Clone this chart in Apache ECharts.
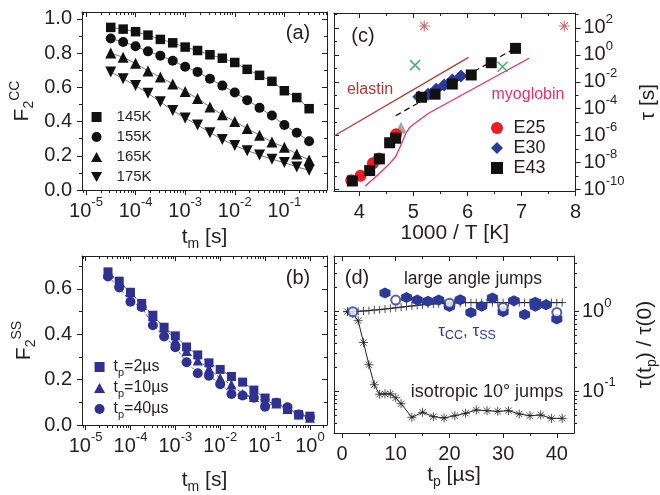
<!DOCTYPE html>
<html><head><meta charset="utf-8">
<script src="https://cdn.jsdelivr.net/npm/echarts@6.0.0/dist/echarts.min.js"></script>
<style>html,body{margin:0;padding:0;background:#fff}#c{width:660px;height:495px}</style>
</head><body><div id="c"></div>
<script>
// ================= DATA =================
// (a) F2^CC vs t_m
const tmA = [3.16e-5,5.62e-5,1e-4,1.78e-4,3.16e-4,5.62e-4,1e-3,1.78e-3,3.16e-3,5.62e-3,1e-2,1.78e-2,3.16e-2,5.62e-2,0.1,0.178,0.316];
const f145 = [0.95,0.94,0.925,0.905,0.88,0.86,0.835,0.815,0.79,0.77,0.745,0.705,0.67,0.635,0.58,0.54,0.475];
const f155 = [0.885,0.865,0.84,0.81,0.785,0.755,0.72,0.69,0.65,0.61,0.57,0.525,0.48,0.435,0.38,0.335,0.285];
const f165 = [0.80,0.775,0.74,0.695,0.66,0.62,0.575,0.535,0.485,0.44,0.40,0.36,0.32,0.28,0.25,0.21,0.175];
const f175 = [0.69,0.65,0.61,0.565,0.515,0.465,0.42,0.38,0.335,0.295,0.26,0.23,0.205,0.18,0.16,0.135,0.115];
const namesA = ['145K','155K','165K','175K'];
// (b) F2^SS vs t_m
const tmB = [3.16e-5,5.62e-5,1e-4,1.78e-4,3.16e-4,5.62e-4,1e-3,1.78e-3,3.16e-3,5.62e-3,1e-2,1.78e-2,3.16e-2,5.62e-2,0.1,0.178,0.316,0.562,1];
const ss2 = [0.675,0.634,0.585,0.536,0.484,0.431,0.393,0.344,0.309,0.274,0.245,0.214,0.189,0.154,0.119,0.098,0.071,0.046,0.039];
const ss10 = [0.668,0.63,0.585,0.53,0.48,0.43,0.375,0.326,0.284,0.249,0.207,0.179,0.137,0.123,0.102,0.095,0.07,0.046,0.032];
const ss40 = [0.655,0.606,0.543,0.52,0.44,0.39,0.343,0.277,0.228,0.217,0.18,0.137,0.13,0.12,0.081,0.098,0.078,0.046,0.035];
const namesB = ['t_p=2\u00b5s','t_p=10\u00b5s','t_p=40\u00b5s'];
// (c) tau vs 1000/T
const invT_E25 = [3.85,4.02,4.25,4.36,4.68];
const tau_E25 = [4.9e-10,1.07e-9,8.9e-9,2.0e-8,1.26e-6];
const invT_E30 = [5.10,5.27,5.42,5.57,5.72,5.88];
const tau_E30 = [7.8e-4,1.17e-3,2.75e-3,5.8e-3,1.35e-2,2.7e-2];
const invT_E43 = [3.87,4.19,4.37,4.56,4.67,5.15,5.40,5.72,6.07,6.44,6.89];
const tau_E43 = [4.4e-10,2.6e-9,1.9e-8,3.0e-7,6.5e-7,7.1e-4,1.2e-3,6.8e-3,3.2e-2,0.26,3.0];
const invT_gray = [4.77];   const tau_gray = [3.9e-6];
const invT_cross = [5.03,6.65]; const tau_cross = [0.17,0.13];
const invT_star = [5.2,7.79];   const tau_star = [138,138];
const invT_elastin = [3.53,6.02]; const tau_elastin = [9.5e-7,0.65];
const invT_myo = [4.11,4.37,4.55,4.67,4.78,4.86,4.93,5.01,5.28,7.14];
const tau_myo = [1.86e-10,1.6e-9,7.9e-9,2.75e-8,2.5e-7,1.5e-6,4e-6,7.4e-6,4.6e-5,0.55];
const invT_dash = [4.67,6.85]; const tau_dash = [3.0e-5,2.6];
const namesC = ['E25','E30','E43'];
// (d) tau(tp)/tau(0) vs tp
const tpIso = [1,2,3,4,5,6,7,8,9,10,11,13,15,17,19,21,23,25,27,29,31,33,35,37,39,41];
const isoVals = [1.0,0.95,0.77,0.41,0.216,0.121,0.092,0.093,0.093,0.083,0.07,0.0472,0.0546,0.0481,0.0463,0.0495,0.053,0.0583,0.0572,0.0561,0.0572,0.052,0.0495,0.0505,0.0458,0.0458];
const tpPlus = [1,2,3,4,5,6,7,8,9,10,11,12,13,14,15,16,17,18,19,20,21,22,23,24,25,26,27,28,29,30,31,32,33,34,35,36,37,38,39,40,41];
const plusVals = [1.0,1.0,1.01,1.02,1.03,1.05,1.06,1.08,1.10,1.12,1.14,1.16,1.18,1.20,1.22,1.24,1.25,1.26,1.27,1.28,1.29,1.29,1.30,1.30,1.30,1.30,1.30,1.30,1.30,1.30,1.30,1.30,1.30,1.30,1.30,1.30,1.30,1.30,1.30,1.30,1.30];
const tpFilled = [8,12,14,16,18,20,22,24,26,28,30,32,34,36,36,38,40];
const filledVals = [1.71,1.51,1.40,1.35,1.40,1.16,1.41,0.98,1.17,1.48,1.0,1.37,0.92,1.17,1.31,1.22,0.81];
const tpOpen = [2,10,20,30,40];
const openVals = [1.0,1.40,1.28,1.13,0.98];

// ================= STYLE / HELPERS =================
const FF = '"Liberation Sans", Arial, Helvetica, sans-serif';
const INK = '#231f20';
const BLUE = '#2e3192';
const L10 = Math.log10;
const SQ = 'path://M0,0 L10,0 L10,10 L0,10 Z';
const TRI = 'path://M5,0 L10,9 L0,9 Z';
const TRID = 'path://M0,0 L10,0 L5,9 Z';
const DIA = 'path://M5,0 L10,5 L5,10 L0,5 Z';
const HEX = 'path://M5,0 L9.33,2.5 L9.33,7.5 L5,10 L0.67,7.5 L0.67,2.5 Z';
const PLUS = 'path://M0,5 L10,5 M5,0 L5,10';
const STAR = 'path://M0,5 L10,5 M5,0 L5,10 M1.5,1.5 L8.5,8.5 M1.5,8.5 L8.5,1.5';
const XMARK = 'path://M0,0 L10,10 M0,10 L10,0';

const RICH = {
  b: {fontSize: 20, fontFamily: FF, color: INK, lineHeight: 30},
  s: {fontSize: 13, fontFamily: FF, color: INK, lineHeight: 13, verticalAlign: 'top'}
};
const NAMERICH = {
  n: {fontSize: 21, fontFamily: FF, color: INK, lineHeight: 28},
  sb: {fontSize: 14, fontFamily: FF, color: INK, lineHeight: 14, verticalAlign: 'bottom'},
  sp: {fontSize: 14, fontFamily: FF, color: INK, lineHeight: 14, verticalAlign: 'top'}
};
const fmtLog = v => '{b|10}{s|' + Math.round(v) + '}';
const fmtLin1 = v => '{b|' + v.toFixed(1) + '}';
const fmtInt = v => '{b|' + Math.round(v) + '}';

function logMinors(lo, hi) {
  const out = [];
  for (let e = Math.floor(lo); e <= Math.ceil(hi); e++)
    for (let k = 2; k <= 9; k++) { const v = e + L10(k); if (v > lo + 1e-6 && v < hi - 1e-6) out.push(v); }
  return out;
}
function steps(a, b, st) { const out = []; for (let v = a; v <= b + 1e-9; v += st) out.push(+v.toFixed(6)); return out; }

function axisSet(g, min, max, major, minor, labels, fmt, mainPos, opts) {
  const mirrorPos = {bottom: 'top', top: 'bottom', left: 'right', right: 'left'}[mainPos];
  const base = {gridIndex: g, type: 'value', min, max, splitLine: {show: false}, axisPointer: {show: false}};
  const line = {show: true, onZero: false, lineStyle: {color: INK, width: 1}};
  const noline = {show: false, onZero: false};
  const tk = (inside, len, vals) => ({show: vals.length > 0, inside, length: len, customValues: vals.length ? vals : undefined, lineStyle: {color: INK, width: 1}});
  const main = Object.assign({}, base, {
    position: mainPos, axisLine: line, axisTick: tk(false, 5, major),
    axisLabel: {show: true, customValues: labels, formatter: fmt, margin: opts.margin, rich: RICH, color: INK, fontFamily: FF, fontSize: 20},
    name: opts.name, nameLocation: 'middle', nameGap: opts.nameGap, nameRotate: opts.nameRotate,
    nameTextStyle: {rich: NAMERICH, fontFamily: FF, fontSize: 21, color: INK}
  });
  return [
    main,
    Object.assign({}, base, {position: mainPos, axisLine: noline, axisTick: tk(false, 3, minor), axisLabel: {show: false}}),
    Object.assign({}, base, {position: mirrorPos, axisLine: line, axisTick: tk(true, 5, major), axisLabel: {show: false}}),
    Object.assign({}, base, {position: mirrorPos, axisLine: noline, axisTick: tk(true, 3, minor), axisLabel: {show: false}})
  ];
}

// ---- axes ----
const axAx = [-5.08, -0.14], axAy = [0, 1.04];
const axBx = [-5.08, 0.38], axBy = [0, 0.745];
const axCx = [3.53, 8.0], axCy = [-10.1, 3.1];
const axDx = [-1.5, 43.2], axDy = [L10(0.03), L10(5)];

const xAxis = [].concat(
  axisSet(0, axAx[0], axAx[1], steps(-5, -1, 1), logMinors(axAx[0], axAx[1]), steps(-5, -1, 1), fmtLog, 'bottom',
    {margin: 6, name: '{n|t}{sb|m}{n| [s]}', nameGap: 33}),
  axisSet(1, axBx[0], axBx[1], steps(-5, 0, 1), logMinors(axBx[0], axBx[1]), steps(-5, 0, 1), fmtLog, 'bottom',
    {margin: 6, name: '{n|t}{sb|m}{n| [s]}', nameGap: 41}),
  axisSet(2, axCx[0], axCx[1], steps(4, 8, 1), steps(4.5, 7.5, 1), steps(4, 8, 1), fmtInt, 'bottom',
    {margin: 6, name: '{n|1000 / T [K]}', nameGap: 25}),
  axisSet(3, axDx[0], axDx[1], steps(0, 40, 10), steps(5, 35, 10), steps(0, 40, 10), fmtInt, 'bottom',
    {margin: 6, name: '{n|t}{sb|p}{n| [\u00b5s]}', nameGap: 21})
);
const yAxis = [].concat(
  axisSet(0, axAy[0], axAy[1], steps(0, 1, 0.2), steps(0.1, 0.9, 0.2), steps(0, 1, 0.2), fmtLin1, 'left',
    {margin: 10, name: '{n|F}{sb|2}{sp|CC}', nameGap: 46, nameRotate: 90}),
  axisSet(1, axBy[0], axBy[1], steps(0, 0.6, 0.2), steps(0.1, 0.7, 0.2), steps(0, 0.6, 0.2), fmtLin1, 'left',
    {margin: 10, name: '{n|F}{sb|2}{sp|SS}', nameGap: 44, nameRotate: 90}),
  axisSet(2, axCy[0], axCy[1], steps(-10, 2, 2), steps(-9, 3, 2), steps(-10, 2, 2), fmtLog, 'right',
    {margin: 8, name: '{n|\u03c4 [s]}', nameGap: 59, nameRotate: 90}),
  axisSet(3, axDy[0], axDy[1], steps(-1, 0, 1), logMinors(axDy[0], axDy[1]), steps(-1, 0, 1), fmtLog, 'right',
    {margin: 8, name: '{n|\u03c4(t}{sb|p}{n|) / \u03c4(0)}', nameGap: 57, nameRotate: 90})
);

// ---- series ----
const logPts = (xs, ys) => xs.map((x, i) => [L10(x), ys[i]]);
const logYPts = (xs, ys) => xs.map((x, i) => [x, L10(ys[i])]);
const series = [];
function line(p, data, style, z) {
  series.push({type: 'line', xAxisIndex: 4 * p, yAxisIndex: 4 * p, data, showSymbol: false, symbol: 'none',
    lineStyle: style, silent: true, z: z || 2, animation: false});
}
function scat(p, name, data, symbol, size, color, extra) {
  series.push(Object.assign({type: 'scatter', name, xAxisIndex: 4 * p, yAxisIndex: 4 * p, data, symbol, symbolSize: size,
    itemStyle: {color, opacity: 1}, z: 5, animation: false}, extra || {}));
}
// (a)
const valsA = [f145, f155, f165, f175];
const symA = [SQ, 'circle', TRI, TRID], sizeA = [9.5, 10, 11, 11];
valsA.forEach(v => line(0, logPts(tmA, v), {color: '#555', width: 0.8}));
valsA.forEach((v, i) => scat(0, namesA[i], logPts(tmA, v), symA[i], sizeA[i], '#111'));
// (b)
const valsB = [ss2, ss10, ss40];
const symB = [SQ, TRI, 'circle'], sizeB = [9, 10, 10];
valsB.forEach(v => line(1, logPts(tmB, v), {color: BLUE, width: 0.8, type: [3, 2]}));
valsB.forEach((v, i) => scat(1, namesB[i], logPts(tmB, v), symB[i], sizeB[i], BLUE));
// (c)
line(2, logYPts(invT_elastin, tau_elastin), {color: '#b03a32', width: 1.3});
line(2, logYPts(invT_myo, tau_myo), {color: '#e8306f', width: 1.3});
line(2, logYPts(invT_dash, tau_dash), {color: '#111', width: 1.3, type: [6, 4]});
scat(2, 'gray', logYPts(invT_gray, tau_gray), TRI, 12, '#a6a6a6');
scat(2, 'E25', logYPts(invT_E25, tau_E25), 'circle', 12, '#ee1c25');
scat(2, 'E30', logYPts(invT_E30, tau_E30), DIA, 13, '#2b3a98');
scat(2, 'E43', logYPts(invT_E43, tau_E43), SQ, 11, '#111');
scat(2, 'cross', logYPts(invT_cross, tau_cross), XMARK, 10, '#1f9d48', {itemStyle: {color: '#1f9d48', borderColor: '#1f9d48', borderWidth: 1.6}});
scat(2, 'star', logYPts(invT_star, tau_star), STAR, 11, '#b5474b', {itemStyle: {color: '#b5474b', borderColor: '#b5474b', borderWidth: 1.1}});
// (d)
line(3, logYPts(tpPlus, plusVals), {color: '#222', width: 0.8});
scat(3, 'plus', logYPts(tpPlus, plusVals), PLUS, 8, '#222', {itemStyle: {color: '#222', borderColor: '#222', borderWidth: 1}});
line(3, logYPts(tpIso, isoVals), {color: '#222', width: 1});
scat(3, 'iso', logYPts(tpIso, isoVals), STAR, 9, '#222', {itemStyle: {color: '#222', borderColor: '#222', borderWidth: 1}});
scat(3, 'tauCC', logYPts(tpFilled, filledVals), HEX, 11, '#2b3a98');
scat(3, 'tauSS', logYPts(tpOpen, openVals), 'emptyCircle', 9, '#2b3a98', {itemStyle: {color: '#2b3a98', borderColor: '#2b3a98', borderWidth: 1.6}});

// ---- legends ----
const legends = [
  {data: namesA, left: 91, top: 108, orient: 'vertical', itemWidth: 30, itemHeight: 10, itemGap: 2, padding: 0,
   textStyle: {fontSize: 15, fontFamily: FF, color: INK, lineHeight: 18}},
  {data: namesB, left: 94, top: 359, orient: 'vertical', itemWidth: 18, itemHeight: 10, itemGap: 2, padding: 0,
   formatter: n => { const m = n.split('='); return '{a|t}{s|p}{a|=' + m[1] + '}'; },
   textStyle: {fontSize: 16, fontFamily: FF, color: INK, rich: {
     a: {fontSize: 16, fontFamily: FF, color: INK, lineHeight: 22},
     s: {fontSize: 11, fontFamily: FF, color: INK, lineHeight: 11, verticalAlign: 'bottom'}}}},
  {data: namesC, left: 491, top: 118, orient: 'vertical', itemWidth: 23, itemHeight: 12, itemGap: 0, padding: 0,
   textStyle: {fontSize: 18, fontFamily: FF, color: INK, lineHeight: 20}}
].map(l => Object.assign({selectedMode: false, symbolKeepAspect: true, inactiveColor: '#ccc'}, l));

// ---- annotations ----
function txt(x, y, text, size, color, rich) {
  return {type: 'text', x, y, z: 10, silent: true,
    style: {text, fill: color || INK, font: size + 'px ' + FF, align: 'center', verticalAlign: 'middle', rich}};
}
const graphic = [
  txt(298, 33, '(a)', 20), txt(298, 278, '(b)', 20), txt(363, 36, '(c)', 20), txt(357, 278, '(d)', 20),
  txt(370, 90, 'elastin', 16, '#b03a32'),
  txt(528, 95, 'myoglobin', 16, '#e8306f'),
  txt(473, 279, 'large angle jumps', 17.5),
  txt(487, 392, 'isotropic 10\u00b0 jumps', 18),
  txt(467, 331, '{t|\u03c4}{u|CC}{t|, \u03c4}{u|SS}', 17, '#2b3a98', {
    t: {fontSize: 17, fontFamily: FF, fill: '#2b3a98', lineHeight: 22},
    u: {fontSize: 12.5, fontFamily: FF, fill: '#2b3a98', lineHeight: 12, verticalAlign: 'bottom'}})
];

const chart = echarts.init(document.getElementById('c'), null, {renderer: 'canvas'});
chart.setOption({
  animation: false,
  backgroundColor: '#fff',
  grid: [
    {left: 82, top: 12, width: 245, height: 178},
    {left: 82, top: 256, width: 245, height: 177},
    {left: 334, top: 13, width: 245, height: 178},
    {left: 334, top: 256, width: 245, height: 177}
  ],
  xAxis, yAxis, series, legend: legends, graphic
});
</script></body></html>
